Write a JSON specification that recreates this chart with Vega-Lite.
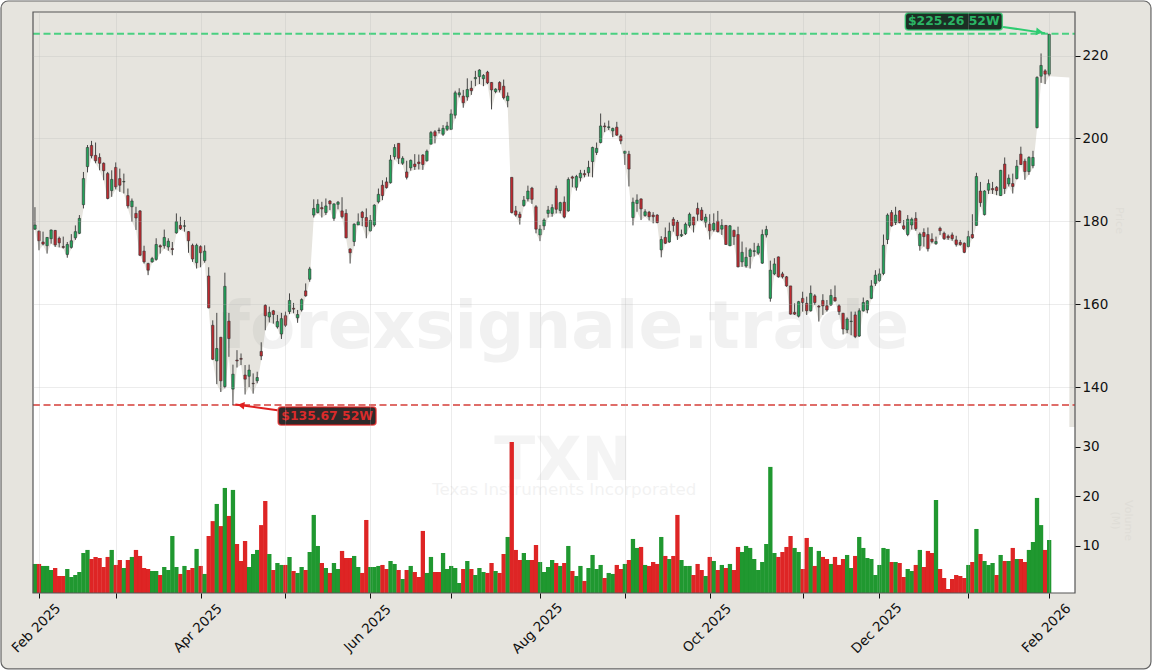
{
  "$schema": "https://vega.github.io/schema/vega-lite/v6.json",
  "width": 1042,
  "height": 581,
  "autosize": {"type": "none"},
  "padding": {"left": 33, "top": 12, "right": 78, "bottom": 78},
  "background": "#ffffff",
  "config": {
    "view": {"stroke": null},
    "font": "DejaVu Sans",
    "axis": {"labelFont": "DejaVu Sans", "labelFontSize": 13.5, "labelColor": "#111111", "tickColor": "#111111", "tickSize": 5, "domain": false, "grid": true, "gridColor": "#b5b5b5", "gridOpacity": 0.32, "gridWidth": 0.8}
  },
  "datasets": {
    "candles": [
      {"i":-0.5,"low":178},
      {"i":0,"open":178.1,"high":183.4,"low":177.9,"close":179.1,"volume":6.38,"vdir":"up"},
      {"i":1,"open":177.6,"high":177.8,"low":173.0,"close":175.3,"volume":6.38,"vdir":"down"},
      {"i":2,"open":175.0,"high":177.5,"low":174.2,"close":174.5,"volume":5.98,"vdir":"up"},
      {"i":3,"open":174.1,"high":176.2,"low":172.2,"close":176.1,"volume":5.98,"vdir":"up"},
      {"i":4,"open":175.8,"high":178.0,"low":174.6,"close":177.9,"volume":5.17,"vdir":"up"},
      {"i":5,"open":177.8,"high":177.9,"low":173.8,"close":174.3,"volume":5.57,"vdir":"down"},
      {"i":6,"open":175.9,"high":176.3,"low":173.7,"close":174.8,"volume":3.96,"vdir":"down"},
      {"i":7,"open":173.9,"high":176.3,"low":173.4,"close":173.7,"volume":3.96,"vdir":"down"},
      {"i":8,"open":172.0,"high":175.0,"low":171.2,"close":174.4,"volume":5.37,"vdir":"up"},
      {"i":9,"open":173.7,"high":176.9,"low":173.4,"close":175.3,"volume":3.76,"vdir":"up"},
      {"i":10,"open":176.0,"high":179.0,"low":175.5,"close":177.5,"volume":4.16,"vdir":"up"},
      {"i":11,"open":177.1,"high":181.5,"low":176.9,"close":180.7,"volume":4.77,"vdir":"up"},
      {"i":12,"open":184.0,"high":191.9,"low":183.1,"close":190.3,"volume":8.59,"vdir":"up"},
      {"i":13,"open":193.2,"high":198.4,"low":191.8,"close":197.8,"volume":9.2,"vdir":"up"},
      {"i":14,"open":198.3,"high":199.4,"low":195.2,"close":195.8,"volume":7.38,"vdir":"down"},
      {"i":15,"open":195.9,"high":199.0,"low":194.0,"close":194.6,"volume":7.79,"vdir":"down"},
      {"i":16,"open":195.4,"high":196.4,"low":192.3,"close":194.0,"volume":7.58,"vdir":"down"},
      {"i":17,"open":194.0,"high":194.2,"low":189.9,"close":192.2,"volume":5.77,"vdir":"down"},
      {"i":18,"open":191.5,"high":191.9,"low":185.3,"close":185.5,"volume":7.79,"vdir":"down"},
      {"i":19,"open":187.4,"high":192.3,"low":185.9,"close":190.1,"volume":9.2,"vdir":"up"},
      {"i":20,"open":193.0,"high":194.2,"low":187.7,"close":188.3,"volume":6.18,"vdir":"down"},
      {"i":21,"open":190.3,"high":192.7,"low":187.1,"close":188.7,"volume":7.18,"vdir":"down"},
      {"i":22,"open":189.5,"high":191.5,"low":186.7,"close":189.6,"volume":5.57,"vdir":"up"},
      {"i":23,"open":186.2,"high":187.9,"low":183.1,"close":183.7,"volume":7.18,"vdir":"down"},
      {"i":24,"open":183.5,"high":185.5,"low":179.9,"close":184.9,"volume":7.79,"vdir":"up"},
      {"i":25,"open":181.9,"high":183.5,"low":177.9,"close":180.8,"volume":9.2,"vdir":"down"},
      {"i":26,"open":182.5,"high":182.7,"low":171.6,"close":171.8,"volume":7.99,"vdir":"down"},
      {"i":27,"open":172.8,"high":174.1,"low":169.8,"close":170.2,"volume":5.57,"vdir":"down"},
      {"i":28,"open":169.8,"high":170.0,"low":167.0,"close":168.2,"volume":5.37,"vdir":"down"},
      {"i":29,"open":170.2,"high":171.4,"low":170.0,"close":171.0,"volume":4.97,"vdir":"up"},
      {"i":30,"open":170.8,"high":175.9,"low":170.5,"close":174.4,"volume":4.97,"vdir":"up"},
      {"i":31,"open":174.1,"high":174.4,"low":172.2,"close":173.8,"volume":4.16,"vdir":"down"},
      {"i":32,"open":174.1,"high":178.0,"low":173.4,"close":176.1,"volume":5.77,"vdir":"up"},
      {"i":33,"open":173.8,"high":175.9,"low":172.9,"close":175.2,"volume":5.17,"vdir":"up"},
      {"i":34,"open":173.4,"high":175.0,"low":171.8,"close":173.2,"volume":12.0,"vdir":"up"},
      {"i":35,"open":177.2,"high":181.9,"low":177.0,"close":179.9,"volume":5.77,"vdir":"up"},
      {"i":36,"open":179.0,"high":181.1,"low":177.9,"close":178.2,"volume":4.37,"vdir":"down"},
      {"i":37,"open":178.8,"high":180.3,"low":177.5,"close":178.9,"volume":5.98,"vdir":"up"},
      {"i":38,"open":177.5,"high":177.6,"low":172.4,"close":175.3,"volume":5.17,"vdir":"down"},
      {"i":39,"open":174.2,"high":174.6,"low":170.2,"close":170.9,"volume":5.57,"vdir":"down"},
      {"i":40,"open":170.0,"high":174.6,"low":168.6,"close":174.2,"volume":9.4,"vdir":"up"},
      {"i":41,"open":173.9,"high":174.2,"low":168.9,"close":172.4,"volume":5.98,"vdir":"down"},
      {"i":42,"open":170.5,"high":174.2,"low":170.0,"close":172.8,"volume":4.37,"vdir":"up"},
      {"i":43,"open":166.8,"high":168.9,"low":159.0,"close":159.1,"volume":12.0,"vdir":"down"},
      {"i":44,"open":154.9,"high":156.1,"low":146.5,"close":146.7,"volume":15.0,"vdir":"down"},
      {"i":45,"open":146.3,"high":157.9,"low":140.7,"close":149.3,"volume":18.45,"vdir":"up"},
      {"i":46,"open":152.0,"high":152.1,"low":138.8,"close":141.5,"volume":14.0,"vdir":"down"},
      {"i":47,"open":140.1,"high":167.6,"low":139.7,"close":164.3,"volume":21.67,"vdir":"up"},
      {"i":48,"open":155.9,"high":157.9,"low":147.3,"close":151.7,"volume":16.04,"vdir":"down"},
      {"i":49,"open":139.5,"high":145.4,"low":135.67,"close":143.1,"volume":21.27,"vdir":"up"},
      {"i":50,"open":146.5,"high":148.9,"low":144.7,"close":146.3,"volume":10.4,"vdir":"down"},
      {"i":51,"open":146.9,"high":148.1,"low":145.3,"close":146.7,"volume":6.98,"vdir":"down"},
      {"i":52,"open":142.9,"high":145.3,"low":138.2,"close":141.9,"volume":11.0,"vdir":"down"},
      {"i":53,"open":142.6,"high":145.4,"low":140.0,"close":144.1,"volume":5.77,"vdir":"up"},
      {"i":54,"open":140.9,"high":143.3,"low":138.4,"close":140.8,"volume":8.39,"vdir":"up"},
      {"i":55,"open":141.5,"high":143.7,"low":140.9,"close":142.3,"volume":9.2,"vdir":"up"},
      {"i":56,"open":148.6,"high":150.8,"low":146.5,"close":147.5,"volume":14.2,"vdir":"down"},
      {"i":57,"open":159.7,"high":160.0,"low":153.7,"close":157.2,"volume":19.05,"vdir":"down"},
      {"i":58,"open":156.9,"high":159.4,"low":155.6,"close":158.0,"volume":8.39,"vdir":"up"},
      {"i":59,"open":158.4,"high":158.6,"low":155.3,"close":157.5,"volume":5.17,"vdir":"down"},
      {"i":60,"open":154.5,"high":157.4,"low":154.1,"close":155.8,"volume":6.58,"vdir":"up"},
      {"i":61,"open":152.8,"high":157.9,"low":151.6,"close":156.5,"volume":6.18,"vdir":"up"},
      {"i":62,"open":157.2,"high":158.2,"low":154.5,"close":154.9,"volume":6.18,"vdir":"down"},
      {"i":63,"open":158.2,"high":162.6,"low":157.6,"close":160.9,"volume":7.79,"vdir":"up"},
      {"i":64,"open":159.0,"high":160.3,"low":157.8,"close":158.8,"volume":4.97,"vdir":"down"},
      {"i":65,"open":156.7,"high":158.6,"low":155.5,"close":157.5,"volume":4.57,"vdir":"up"},
      {"i":66,"open":158.6,"high":161.4,"low":158.2,"close":161.1,"volume":5.77,"vdir":"up"},
      {"i":67,"open":163.2,"high":165.0,"low":161.8,"close":162.0,"volume":5.17,"vdir":"down"},
      {"i":68,"open":166.0,"high":169.0,"low":165.4,"close":168.5,"volume":8.79,"vdir":"up"},
      {"i":69,"open":181.5,"high":185.3,"low":180.9,"close":183.1,"volume":16.24,"vdir":"up"},
      {"i":70,"open":182.1,"high":185.3,"low":181.9,"close":184.1,"volume":10.0,"vdir":"up"},
      {"i":71,"open":183.3,"high":184.7,"low":180.9,"close":183.0,"volume":6.58,"vdir":"down"},
      {"i":72,"open":182.1,"high":185.5,"low":181.5,"close":183.7,"volume":5.57,"vdir":"up"},
      {"i":73,"open":184.9,"high":185.1,"low":182.7,"close":184.2,"volume":4.57,"vdir":"down"},
      {"i":74,"open":180.7,"high":184.3,"low":180.1,"close":184.2,"volume":6.58,"vdir":"up"},
      {"i":75,"open":184.1,"high":184.9,"low":182.9,"close":184.6,"volume":5.37,"vdir":"up"},
      {"i":76,"open":182.5,"high":185.8,"low":180.7,"close":181.1,"volume":9.0,"vdir":"down"},
      {"i":77,"open":181.9,"high":182.9,"low":175.9,"close":176.0,"volume":7.58,"vdir":"down"},
      {"i":78,"open":173.3,"high":173.5,"low":169.8,"close":172.4,"volume":7.58,"vdir":"down"},
      {"i":79,"open":175.1,"high":179.5,"low":174.0,"close":179.3,"volume":7.99,"vdir":"up"},
      {"i":80,"open":179.1,"high":181.9,"low":179.1,"close":179.9,"volume":5.77,"vdir":"up"},
      {"i":81,"open":182.2,"high":182.5,"low":178.8,"close":180.9,"volume":4.57,"vdir":"down"},
      {"i":82,"open":180.9,"high":183.1,"low":175.9,"close":178.7,"volume":15.23,"vdir":"down"},
      {"i":83,"open":177.7,"high":181.5,"low":177.5,"close":180.2,"volume":5.77,"vdir":"up"},
      {"i":84,"open":179.1,"high":184.1,"low":178.7,"close":183.9,"volume":5.77,"vdir":"up"},
      {"i":85,"open":184.7,"high":187.9,"low":184.3,"close":186.5,"volume":5.98,"vdir":"up"},
      {"i":86,"open":188.7,"high":189.9,"low":185.1,"close":186.2,"volume":6.18,"vdir":"down"},
      {"i":87,"open":189.5,"high":190.6,"low":187.9,"close":188.1,"volume":5.37,"vdir":"down"},
      {"i":88,"open":189.3,"high":196.0,"low":189.1,"close":194.8,"volume":6.98,"vdir":"up"},
      {"i":89,"open":195.6,"high":198.6,"low":194.9,"close":197.8,"volume":6.38,"vdir":"up"},
      {"i":90,"open":198.8,"high":198.8,"low":193.8,"close":195.2,"volume":5.17,"vdir":"down"},
      {"i":91,"open":194.0,"high":195.7,"low":193.6,"close":195.2,"volume":3.36,"vdir":"up"},
      {"i":92,"open":191.9,"high":194.6,"low":190.1,"close":190.6,"volume":5.17,"vdir":"down"},
      {"i":93,"open":192.9,"high":194.9,"low":192.2,"close":194.7,"volume":5.98,"vdir":"up"},
      {"i":94,"open":193.8,"high":196.2,"low":192.4,"close":193.2,"volume":4.77,"vdir":"down"},
      {"i":95,"open":194.3,"high":196.1,"low":192.5,"close":193.9,"volume":3.76,"vdir":"down"},
      {"i":96,"open":196.0,"high":196.2,"low":192.4,"close":193.7,"volume":13.02,"vdir":"down"},
      {"i":97,"open":194.6,"high":197.3,"low":194.4,"close":196.9,"volume":4.57,"vdir":"up"},
      {"i":98,"open":198.6,"high":201.8,"low":198.6,"close":201.4,"volume":7.79,"vdir":"up"},
      {"i":99,"open":201.6,"high":202.0,"low":198.8,"close":200.6,"volume":4.77,"vdir":"down"},
      {"i":100,"open":201.9,"high":202.6,"low":201.2,"close":202.0,"volume":4.77,"vdir":"down"},
      {"i":101,"open":201.0,"high":203.2,"low":200.6,"close":202.4,"volume":8.59,"vdir":"up"},
      {"i":102,"open":202.2,"high":204.0,"low":201.8,"close":203.0,"volume":5.37,"vdir":"up"},
      {"i":103,"open":202.2,"high":207.0,"low":202.0,"close":205.9,"volume":5.98,"vdir":"up"},
      {"i":104,"open":205.6,"high":211.5,"low":204.8,"close":211.0,"volume":5.57,"vdir":"up"},
      {"i":105,"open":210.5,"high":212.1,"low":209.9,"close":211.0,"volume":2.55,"vdir":"up"},
      {"i":106,"open":210.2,"high":211.7,"low":207.4,"close":208.6,"volume":5.37,"vdir":"down"},
      {"i":107,"open":210.0,"high":214.5,"low":209.1,"close":211.8,"volume":6.98,"vdir":"up"},
      {"i":108,"open":212.1,"high":213.9,"low":210.5,"close":211.5,"volume":5.37,"vdir":"down"},
      {"i":109,"open":214.4,"high":216.3,"low":212.6,"close":214.7,"volume":4.16,"vdir":"up"},
      {"i":110,"open":214.9,"high":216.7,"low":213.1,"close":216.5,"volume":5.57,"vdir":"up"},
      {"i":111,"open":214.4,"high":215.5,"low":212.6,"close":215.2,"volume":4.77,"vdir":"up"},
      {"i":112,"open":216.0,"high":216.3,"low":213.1,"close":213.4,"volume":4.57,"vdir":"down"},
      {"i":113,"open":213.5,"high":213.6,"low":207.0,"close":211.7,"volume":6.58,"vdir":"down"},
      {"i":114,"open":211.3,"high":212.1,"low":210.9,"close":211.9,"volume":4.97,"vdir":"up"},
      {"i":115,"open":213.5,"high":213.8,"low":211.1,"close":211.7,"volume":4.57,"vdir":"down"},
      {"i":116,"open":212.6,"high":214.2,"low":209.4,"close":209.8,"volume":8.39,"vdir":"down"},
      {"i":117,"open":209.1,"high":211.1,"low":207.5,"close":210.2,"volume":11.81,"vdir":"up"},
      {"i":118,"open":190.6,"high":190.6,"low":181.9,"close":182.1,"volume":30.93,"vdir":"down"},
      {"i":119,"open":182.5,"high":183.7,"low":181.1,"close":181.5,"volume":9.2,"vdir":"down"},
      {"i":120,"open":181.7,"high":182.3,"low":179.2,"close":180.9,"volume":7.18,"vdir":"down"},
      {"i":121,"open":183.8,"high":186.1,"low":183.5,"close":185.1,"volume":8.59,"vdir":"up"},
      {"i":122,"open":185.4,"high":188.6,"low":184.8,"close":187.3,"volume":7.18,"vdir":"up"},
      {"i":123,"open":188.0,"high":188.3,"low":184.2,"close":185.3,"volume":7.18,"vdir":"down"},
      {"i":124,"open":183.5,"high":183.9,"low":177.1,"close":178.1,"volume":10.2,"vdir":"down"},
      {"i":125,"open":176.7,"high":179.1,"low":175.2,"close":178.1,"volume":6.78,"vdir":"up"},
      {"i":126,"open":178.9,"high":180.7,"low":177.9,"close":180.3,"volume":4.77,"vdir":"up"},
      {"i":127,"open":181.9,"high":183.7,"low":180.9,"close":182.7,"volume":5.77,"vdir":"up"},
      {"i":128,"open":181.9,"high":184.1,"low":181.1,"close":183.3,"volume":7.18,"vdir":"up"},
      {"i":129,"open":187.9,"high":188.6,"low":181.9,"close":182.9,"volume":6.58,"vdir":"down"},
      {"i":130,"open":182.6,"high":184.7,"low":181.9,"close":184.5,"volume":5.98,"vdir":"up"},
      {"i":131,"open":184.6,"high":186.0,"low":180.7,"close":181.0,"volume":6.58,"vdir":"down"},
      {"i":132,"open":182.5,"high":190.6,"low":182.3,"close":190.1,"volume":10.0,"vdir":"up"},
      {"i":133,"open":190.7,"high":191.0,"low":188.2,"close":190.4,"volume":4.97,"vdir":"down"},
      {"i":134,"open":188.2,"high":191.2,"low":187.4,"close":190.8,"volume":3.96,"vdir":"up"},
      {"i":135,"open":190.5,"high":192.4,"low":189.6,"close":191.6,"volume":5.98,"vdir":"up"},
      {"i":136,"open":191.5,"high":192.4,"low":190.6,"close":191.2,"volume":2.96,"vdir":"down"},
      {"i":137,"open":191.7,"high":194.6,"low":190.8,"close":193.0,"volume":5.57,"vdir":"up"},
      {"i":138,"open":194.4,"high":198.0,"low":190.6,"close":197.8,"volume":8.19,"vdir":"up"},
      {"i":139,"open":196.6,"high":199.0,"low":196.0,"close":197.6,"volume":5.37,"vdir":"up"},
      {"i":140,"open":199.0,"high":206.0,"low":198.8,"close":203.0,"volume":6.18,"vdir":"up"},
      {"i":141,"open":203.0,"high":203.8,"low":201.5,"close":202.8,"volume":3.56,"vdir":"down"},
      {"i":142,"open":202.6,"high":204.3,"low":202.0,"close":202.8,"volume":4.57,"vdir":"up"},
      {"i":143,"open":201.8,"high":202.6,"low":200.3,"close":202.4,"volume":4.37,"vdir":"up"},
      {"i":144,"open":202.7,"high":204.0,"low":200.6,"close":200.8,"volume":6.18,"vdir":"down"},
      {"i":145,"open":200.6,"high":201.0,"low":198.6,"close":199.4,"volume":5.37,"vdir":"down"},
      {"i":146,"open":196.4,"high":197.0,"low":193.6,"close":196.9,"volume":6.38,"vdir":"up"},
      {"i":147,"open":196.2,"high":197.0,"low":188.4,"close":192.6,"volume":7.18,"vdir":"down"},
      {"i":148,"open":180.9,"high":185.7,"low":179.0,"close":184.6,"volume":11.41,"vdir":"up"},
      {"i":149,"open":184.3,"high":186.5,"low":182.3,"close":185.1,"volume":9.6,"vdir":"up"},
      {"i":150,"open":185.4,"high":185.5,"low":180.3,"close":183.0,"volume":9.8,"vdir":"down"},
      {"i":151,"open":181.4,"high":182.9,"low":181.1,"close":182.3,"volume":6.18,"vdir":"up"},
      {"i":152,"open":182.2,"high":182.5,"low":180.2,"close":181.1,"volume":5.98,"vdir":"down"},
      {"i":153,"open":181.5,"high":182.2,"low":179.5,"close":181.1,"volume":6.78,"vdir":"down"},
      {"i":154,"open":181.5,"high":181.7,"low":179.5,"close":179.7,"volume":6.38,"vdir":"down"},
      {"i":155,"open":173.1,"high":176.4,"low":171.3,"close":175.6,"volume":11.81,"vdir":"up"},
      {"i":156,"open":176.1,"high":178.5,"low":174.5,"close":174.7,"volume":7.99,"vdir":"down"},
      {"i":157,"open":175.0,"high":179.7,"low":174.8,"close":177.6,"volume":7.38,"vdir":"up"},
      {"i":158,"open":180.5,"high":181.0,"low":177.5,"close":179.0,"volume":7.99,"vdir":"down"},
      {"i":159,"open":179.8,"high":180.3,"low":175.5,"close":176.5,"volume":16.24,"vdir":"down"},
      {"i":160,"open":176.5,"high":178.0,"low":176.2,"close":176.8,"volume":7.18,"vdir":"up"},
      {"i":161,"open":177.0,"high":179.7,"low":176.7,"close":179.3,"volume":5.98,"vdir":"up"},
      {"i":162,"open":179.0,"high":182.1,"low":178.5,"close":181.7,"volume":5.98,"vdir":"up"},
      {"i":163,"open":181.0,"high":181.1,"low":177.3,"close":179.1,"volume":4.16,"vdir":"down"},
      {"i":164,"open":183.1,"high":184.5,"low":180.1,"close":181.7,"volume":6.38,"vdir":"down"},
      {"i":165,"open":182.7,"high":183.4,"low":180.1,"close":180.3,"volume":5.17,"vdir":"down"},
      {"i":166,"open":179.8,"high":181.8,"low":178.5,"close":181.0,"volume":3.96,"vdir":"up"},
      {"i":167,"open":179.3,"high":181.7,"low":175.6,"close":177.7,"volume":7.79,"vdir":"down"},
      {"i":168,"open":177.9,"high":181.9,"low":177.5,"close":179.5,"volume":6.98,"vdir":"up"},
      {"i":169,"open":180.0,"high":182.5,"low":177.3,"close":177.5,"volume":5.17,"vdir":"down"},
      {"i":170,"open":178.1,"high":180.5,"low":176.7,"close":179.0,"volume":6.18,"vdir":"up"},
      {"i":171,"open":179.0,"high":179.1,"low":174.3,"close":174.4,"volume":5.57,"vdir":"down"},
      {"i":172,"open":174.1,"high":179.1,"low":174.0,"close":178.9,"volume":6.38,"vdir":"up"},
      {"i":173,"open":177.8,"high":178.0,"low":174.3,"close":176.3,"volume":5.17,"vdir":"down"},
      {"i":174,"open":176.8,"high":178.7,"low":168.9,"close":169.0,"volume":9.8,"vdir":"down"},
      {"i":175,"open":170.2,"high":175.1,"low":169.0,"close":172.5,"volume":8.79,"vdir":"up"},
      {"i":176,"open":169.2,"high":173.7,"low":168.8,"close":171.3,"volume":10.0,"vdir":"up"},
      {"i":177,"open":171.5,"high":173.5,"low":168.6,"close":173.1,"volume":9.6,"vdir":"up"},
      {"i":178,"open":172.7,"high":174.8,"low":171.5,"close":172.9,"volume":7.38,"vdir":"up"},
      {"i":179,"open":172.3,"high":174.7,"low":171.9,"close":174.0,"volume":5.17,"vdir":"up"},
      {"i":180,"open":169.9,"high":178.0,"low":169.7,"close":176.8,"volume":6.78,"vdir":"up"},
      {"i":181,"open":176.7,"high":178.9,"low":176.1,"close":178.0,"volume":10.4,"vdir":"up"},
      {"i":182,"open":161.4,"high":170.5,"low":160.6,"close":168.2,"volume":25.9,"vdir":"up"},
      {"i":183,"open":167.3,"high":171.1,"low":167.0,"close":169.7,"volume":8.59,"vdir":"up"},
      {"i":184,"open":171.4,"high":171.5,"low":166.4,"close":166.6,"volume":7.79,"vdir":"down"},
      {"i":185,"open":167.3,"high":167.8,"low":166.2,"close":166.6,"volume":8.79,"vdir":"down"},
      {"i":186,"open":166.6,"high":166.8,"low":164.2,"close":164.4,"volume":9.8,"vdir":"down"},
      {"i":187,"open":164.4,"high":164.4,"low":157.5,"close":157.6,"volume":12.0,"vdir":"down"},
      {"i":188,"open":158.0,"high":160.2,"low":157.4,"close":157.6,"volume":9.6,"vdir":"up"},
      {"i":189,"open":157.1,"high":160.8,"low":156.8,"close":160.6,"volume":8.79,"vdir":"up"},
      {"i":190,"open":161.4,"high":163.0,"low":158.2,"close":160.4,"volume":5.37,"vdir":"down"},
      {"i":191,"open":160.2,"high":161.8,"low":157.4,"close":158.4,"volume":11.61,"vdir":"down"},
      {"i":192,"open":158.4,"high":164.5,"low":158.2,"close":162.6,"volume":9.8,"vdir":"up"},
      {"i":193,"open":162.0,"high":162.4,"low":159.8,"close":160.4,"volume":5.98,"vdir":"down"},
      {"i":194,"open":159.5,"high":159.8,"low":155.8,"close":159.3,"volume":9.0,"vdir":"up"},
      {"i":195,"open":160.9,"high":162.4,"low":157.4,"close":159.6,"volume":7.79,"vdir":"down"},
      {"i":196,"open":159.6,"high":161.0,"low":158.2,"close":158.6,"volume":7.38,"vdir":"down"},
      {"i":197,"open":159.8,"high":163.6,"low":159.6,"close":162.1,"volume":6.38,"vdir":"up"},
      {"i":198,"open":161.6,"high":164.5,"low":160.6,"close":160.8,"volume":7.79,"vdir":"down"},
      {"i":199,"open":159.6,"high":160.0,"low":157.4,"close":158.2,"volume":6.18,"vdir":"down"},
      {"i":200,"open":157.8,"high":157.9,"low":152.7,"close":154.0,"volume":7.38,"vdir":"down"},
      {"i":201,"open":153.8,"high":156.8,"low":153.0,"close":156.4,"volume":8.19,"vdir":"up"},
      {"i":202,"open":155.8,"high":158.2,"low":152.5,"close":155.9,"volume":5.57,"vdir":"up"},
      {"i":203,"open":157.4,"high":158.2,"low":151.8,"close":152.2,"volume":7.99,"vdir":"down"},
      {"i":204,"open":152.3,"high":159.0,"low":152.1,"close":158.4,"volume":11.81,"vdir":"up"},
      {"i":205,"open":158.4,"high":161.6,"low":158.2,"close":160.4,"volume":9.6,"vdir":"up"},
      {"i":206,"open":158.6,"high":161.0,"low":157.8,"close":160.8,"volume":7.58,"vdir":"up"},
      {"i":207,"open":161.4,"high":165.8,"low":161.2,"close":164.4,"volume":7.38,"vdir":"up"},
      {"i":208,"open":165.0,"high":168.2,"low":164.4,"close":167.0,"volume":4.16,"vdir":"up"},
      {"i":209,"open":165.7,"high":168.6,"low":165.4,"close":167.3,"volume":6.18,"vdir":"up"},
      {"i":210,"open":167.4,"high":176.8,"low":167.0,"close":174.2,"volume":9.6,"vdir":"up"},
      {"i":211,"open":175.6,"high":181.9,"low":174.5,"close":181.5,"volume":9.4,"vdir":"up"},
      {"i":212,"open":182.1,"high":182.7,"low":178.7,"close":178.9,"volume":6.78,"vdir":"down"},
      {"i":213,"open":179.7,"high":183.5,"low":179.1,"close":181.5,"volume":6.78,"vdir":"up"},
      {"i":214,"open":182.5,"high":182.7,"low":179.5,"close":179.7,"volume":6.58,"vdir":"down"},
      {"i":215,"open":178.9,"high":180.3,"low":177.9,"close":178.2,"volume":3.76,"vdir":"down"},
      {"i":216,"open":176.8,"high":181.5,"low":176.4,"close":180.5,"volume":5.37,"vdir":"up"},
      {"i":217,"open":179.1,"high":180.9,"low":178.0,"close":180.5,"volume":4.97,"vdir":"up"},
      {"i":218,"open":180.7,"high":182.2,"low":177.7,"close":178.2,"volume":6.18,"vdir":"down"},
      {"i":219,"open":174.1,"high":177.3,"low":172.9,"close":176.9,"volume":9.2,"vdir":"up"},
      {"i":220,"open":177.3,"high":178.3,"low":173.9,"close":176.3,"volume":5.77,"vdir":"down"},
      {"i":221,"open":176.8,"high":178.5,"low":172.7,"close":173.4,"volume":9.0,"vdir":"down"},
      {"i":222,"open":175.7,"high":177.1,"low":174.7,"close":175.1,"volume":8.59,"vdir":"down"},
      {"i":223,"open":174.6,"high":176.3,"low":174.3,"close":175.1,"volume":19.25,"vdir":"up"},
      {"i":224,"open":178.3,"high":178.7,"low":176.7,"close":177.7,"volume":5.37,"vdir":"down"},
      {"i":225,"open":177.1,"high":177.5,"low":175.5,"close":175.8,"volume":3.56,"vdir":"down"},
      {"i":226,"open":176.4,"high":176.8,"low":175.5,"close":176.0,"volume":1.35,"vdir":"down"},
      {"i":227,"open":176.7,"high":177.3,"low":175.3,"close":175.8,"volume":3.36,"vdir":"down"},
      {"i":228,"open":175.5,"high":176.5,"low":173.9,"close":174.4,"volume":4.16,"vdir":"down"},
      {"i":229,"open":174.9,"high":175.5,"low":174.1,"close":174.4,"volume":3.96,"vdir":"down"},
      {"i":230,"open":174.7,"high":174.9,"low":172.3,"close":172.5,"volume":3.56,"vdir":"down"},
      {"i":231,"open":173.9,"high":177.7,"low":173.7,"close":176.3,"volume":6.18,"vdir":"up"},
      {"i":232,"open":176.8,"high":181.7,"low":175.8,"close":176.0,"volume":6.78,"vdir":"down"},
      {"i":233,"open":179.0,"high":191.7,"low":178.9,"close":190.8,"volume":13.42,"vdir":"up"},
      {"i":234,"open":187.3,"high":189.5,"low":183.5,"close":184.5,"volume":8.39,"vdir":"down"},
      {"i":235,"open":181.6,"high":187.5,"low":181.4,"close":187.3,"volume":6.98,"vdir":"up"},
      {"i":236,"open":187.5,"high":190.1,"low":186.6,"close":189.1,"volume":6.18,"vdir":"up"},
      {"i":237,"open":187.9,"high":189.5,"low":186.6,"close":187.6,"volume":6.58,"vdir":"up"},
      {"i":238,"open":188.2,"high":188.5,"low":186.3,"close":187.4,"volume":4.16,"vdir":"down"},
      {"i":239,"open":186.2,"high":192.4,"low":186.1,"close":192.3,"volume":8.19,"vdir":"up"},
      {"i":240,"open":193.8,"high":195.4,"low":186.6,"close":187.9,"volume":6.98,"vdir":"down"},
      {"i":241,"open":189.0,"high":191.3,"low":188.4,"close":190.4,"volume":6.98,"vdir":"up"},
      {"i":242,"open":189.1,"high":191.5,"low":186.7,"close":188.4,"volume":9.6,"vdir":"down"},
      {"i":243,"open":190.3,"high":194.8,"low":190.1,"close":193.3,"volume":7.38,"vdir":"up"},
      {"i":244,"open":196.2,"high":198.0,"low":193.6,"close":193.7,"volume":7.38,"vdir":"down"},
      {"i":245,"open":194.5,"high":195.1,"low":190.0,"close":192.0,"volume":6.78,"vdir":"down"},
      {"i":246,"open":192.0,"high":195.7,"low":191.2,"close":195.4,"volume":9.2,"vdir":"up"},
      {"i":247,"open":193.4,"high":197.0,"low":192.8,"close":195.4,"volume":10.8,"vdir":"up"},
      {"i":248,"open":202.6,"high":215.0,"low":202.4,"close":214.7,"volume":19.66,"vdir":"up"},
      {"i":249,"open":215.0,"high":220.5,"low":213.4,"close":217.6,"volume":14.2,"vdir":"up"},
      {"i":250,"open":216.3,"high":216.7,"low":213.1,"close":215.5,"volume":9.2,"vdir":"down"},
      {"i":251,"open":215.5,"high":225.26,"low":215.0,"close":225.1,"volume":11.2,"vdir":"up"},
      {"i":256,"low":214.7}
    ],
    "boxes": [
      {"name":"high","x0":215.4,"x1":239.4,"y0":226.15,"y1":230.26,"i":227.4,"y":228.25,"label":"$225.26 52W","ax":239.6,"ax2":250,"ay":226.9,"ay2":225.4,"hx":248.6,"hy":225.7},
      {"name":"low","x0":60.2,"x1":84.4,"y0":130.83,"y1":135.18,"i":72.3,"y":133,"label":"$135.67 52W","ax":60,"ax2":49.6,"ay":134.4,"ay2":135.8,"hx":51,"hy":135.6}
    ]
  },
  "data": {"name": "candles"},
  "encoding": {
    "x": {
      "field": "i",
      "type": "quantitative",
      "scale": {"domain": [-0.485, 257.4], "nice": false, "zero": false, "padding": 0},
      "axis": {
        "title": null,
        "orient": "bottom",
        "zindex": 1,
        "values": [1, 20, 41, 62, 83, 103, 125, 146, 167, 190, 209, 231, 251],
        "labelExpr": "datum.value == 1 ? 'Feb 2025' : datum.value == 41 ? 'Apr 2025' : datum.value == 83 ? 'Jun 2025' : datum.value == 125 ? 'Aug 2025' : datum.value == 167 ? 'Oct 2025' : datum.value == 209 ? 'Dec 2025' : datum.value == 251 ? 'Feb 2026' : ''",
        "labelAngle": 315,
        "labelAlign": "center",
        "labelBaseline": "middle",
        "labelPadding": 30,
        "labelOffset": -3,
        "labelOverlap": false,
        "labelBound": false,
        "labelFlush": false
      }
    }
  },
  "layer": [
    {
      "layer": [
        {
          "data": {"values": [{"x0": -8.4, "x1": 276.2, "y0": 72, "y1": 233.15}]},
          "mark": {"type": "rect", "fill": "#e6e4de", "stroke": "#666666", "strokeWidth": 1.2, "cornerRadius": 7},
          "encoding": {
            "x": {"field": "x0", "type": "quantitative"},
            "x2": {"field": "x1"},
            "y": {
              "field": "y0",
              "type": "quantitative",
              "scale": {"domain": [90.3, 230.5], "nice": false, "zero": false},
              "axis": {"orient": "right", "zindex": 1, "values": [140, 160, 180, 200, 220], "title": "Price", "titleColor": "#dfddd7", "titleFontSize": 11, "titleFontWeight": "normal", "titleAngle": 90, "titleY": 208, "titlePadding": 6}
            },
            "y2": {"field": "y1"}
          }
        },
        {
          "mark": {"type": "area", "color": "#ffffff", "opacity": 1},
          "encoding": {
            "y": {"field": "low", "type": "quantitative"},
            "y2": {"datum": 90.3}
          }
        },
        {
          "data": {"values": [{"x0": -0.485, "x1": 257.4, "y": 225.26}]},
          "mark": {"type": "rule", "color": "#2ecc71", "strokeWidth": 2, "strokeDash": [7, 3.5], "opacity": 0.85},
          "encoding": {"x": {"field": "x0", "type": "quantitative"}, "x2": {"field": "x1"}, "y": {"field": "y", "type": "quantitative"}}
        },
        {
          "data": {"values": [{"x0": -0.485, "x1": 257.4, "y": 135.67}]},
          "mark": {"type": "rule", "color": "#d9534f", "strokeWidth": 2, "strokeDash": [7, 3.5], "opacity": 0.85},
          "encoding": {"x": {"field": "x0", "type": "quantitative"}, "x2": {"field": "x1"}, "y": {"field": "y", "type": "quantitative"}}
        },
        {
          "data": {"values": [{"i": 131.2, "y": 154.2, "label": "forexsignale.trade"}]},
          "mark": {"type": "text", "font": "DejaVu Sans", "fontWeight": "bold", "fontSize": 66, "color": "#999999", "opacity": 0.13, "baseline": "middle", "align": "center"},
          "encoding": {"y": {"field": "y", "type": "quantitative"}, "text": {"field": "label"}}
        },
        {
          "mark": {"type": "rule", "color": "#333333", "strokeWidth": 0.9},
          "encoding": {"y": {"field": "low", "type": "quantitative"}, "y2": {"field": "high"}}
        },
        {
          "mark": {"type": "bar", "size": 2.4, "stroke": "#333333", "strokeWidth": 0.6, "orient": "vertical"},
          "encoding": {
            "y": {"field": "open", "type": "quantitative"},
            "y2": {"field": "close"},
            "fill": {"condition": {"test": "datum.close >= datum.open", "value": "#22a35a"}, "value": "#bf2a30"}
          }
        },
        {
          "data": {"name": "boxes"},
          "transform": [{"filter": "datum.name == 'high'"}],
          "layer": [
            {"mark": {"type": "rule", "color": "#2ecc71", "strokeWidth": 2}, "encoding": {"x": {"field": "ax", "type": "quantitative"}, "x2": {"field": "ax2"}, "y": {"field": "ay", "type": "quantitative"}, "y2": {"field": "ay2"}}},
            {"mark": {"type": "point", "shape": "triangle-right", "filled": true, "size": 60, "color": "#2ecc71", "angle": 8, "opacity": 1}, "encoding": {"x": {"field": "hx", "type": "quantitative"}, "y": {"field": "hy", "type": "quantitative"}}},
            {"mark": {"type": "rect", "fill": "#1c2f25", "stroke": "#2ecc71", "strokeWidth": 1.5, "cornerRadius": 3, "strokeOpacity": 0.8}, "encoding": {"x": {"field": "x0", "type": "quantitative"}, "x2": {"field": "x1"}, "y": {"field": "y0", "type": "quantitative"}, "y2": {"field": "y1"}}},
            {"mark": {"type": "text", "font": "DejaVu Sans", "fontWeight": "bold", "fontSize": 12.4, "color": "#2bb565", "baseline": "middle", "align": "center"}, "encoding": {"y": {"field": "y", "type": "quantitative"}, "text": {"field": "label"}}}
          ]
        },
        {
          "data": {"name": "boxes"},
          "transform": [{"filter": "datum.name == 'low'"}],
          "layer": [
            {"mark": {"type": "rule", "color": "#e02020", "strokeWidth": 2}, "encoding": {"x": {"field": "ax", "type": "quantitative"}, "x2": {"field": "ax2"}, "y": {"field": "ay", "type": "quantitative"}, "y2": {"field": "ay2"}}},
            {"mark": {"type": "point", "shape": "triangle-left", "filled": true, "size": 60, "color": "#e02020", "angle": 8, "opacity": 1}, "encoding": {"x": {"field": "hx", "type": "quantitative"}, "y": {"field": "hy", "type": "quantitative"}}},
            {"mark": {"type": "rect", "fill": "#2e2a2a", "stroke": "#e02020", "strokeWidth": 1.5, "cornerRadius": 3, "strokeOpacity": 0.8}, "encoding": {"x": {"field": "x0", "type": "quantitative"}, "x2": {"field": "x1"}, "y": {"field": "y0", "type": "quantitative"}, "y2": {"field": "y1"}}},
            {"mark": {"type": "text", "font": "DejaVu Sans", "fontWeight": "bold", "fontSize": 12.4, "color": "#d92b2b", "baseline": "middle", "align": "center"}, "encoding": {"y": {"field": "y", "type": "quantitative"}, "text": {"field": "label"}}}
          ]
        }
      ]
    },
    {
      "layer": [
        {
          "data": {"values": [{"x0": -0.485, "x1": 257.4, "y0": 0.54, "y1": 33.94}]},
          "mark": {"type": "rect", "fill": "#ffffff"},
          "encoding": {
            "x": {"field": "x0", "type": "quantitative"},
            "x2": {"field": "x1"},
            "y": {
              "field": "y0",
              "type": "quantitative",
              "scale": {"domain": [0.54, 117.4], "nice": false, "zero": false},
              "axis": {"orient": "right", "zindex": 1, "values": [10, 20, 30], "title": ["Volume", "(M)"], "titleColor": "#dfddd7", "titleFontSize": 11, "titleFontWeight": "normal", "titleAngle": 90, "titleY": 508, "titlePadding": 10}
            },
            "y2": {"field": "y1"}
          }
        },
        {
          "data": {"values": [{"i": 130.7, "y": 26.9, "label": "TXN"}]},
          "mark": {"type": "text", "font": "DejaVu Sans", "fontWeight": "bold", "fontSize": 60, "color": "#999999", "opacity": 0.1, "baseline": "middle", "align": "center"},
          "encoding": {"y": {"field": "y", "type": "quantitative"}, "text": {"field": "label"}}
        },
        {
          "data": {"values": [{"i": 131, "y": 21.3, "label": "Texas Instruments Incorporated"}]},
          "mark": {"type": "text", "font": "DejaVu Sans", "fontSize": 16.7, "color": "#999999", "opacity": 0.12, "baseline": "middle", "align": "center"},
          "encoding": {"y": {"field": "y", "type": "quantitative"}, "text": {"field": "label"}}
        },
        {
          "transform": [{"filter": "isValid(datum.volume)"}],
          "mark": {"type": "bar", "size": 4.3, "opacity": 0.93, "orient": "vertical"},
          "encoding": {
            "y": {"field": "volume", "type": "quantitative"},
            "y2": {"datum": 0.54},
            "fill": {"condition": {"test": "datum.vdir == 'up'", "value": "#0f9020"}, "value": "#dc1414"}
          }
        },
        {
          "data": {"values": [{"x0": -0.485, "x1": 257.4, "y0": 0.54, "y1": 117.4}]},
          "mark": {"type": "rect", "fill": null, "stroke": "#555555", "strokeWidth": 1.2},
          "encoding": {"x": {"field": "x0", "type": "quantitative"}, "x2": {"field": "x1"}, "y": {"field": "y0", "type": "quantitative"}, "y2": {"field": "y1"}}
        }
      ]
    }
  ],
  "resolve": {"scale": {"y": "independent"}, "axis": {"y": "independent"}}
}
